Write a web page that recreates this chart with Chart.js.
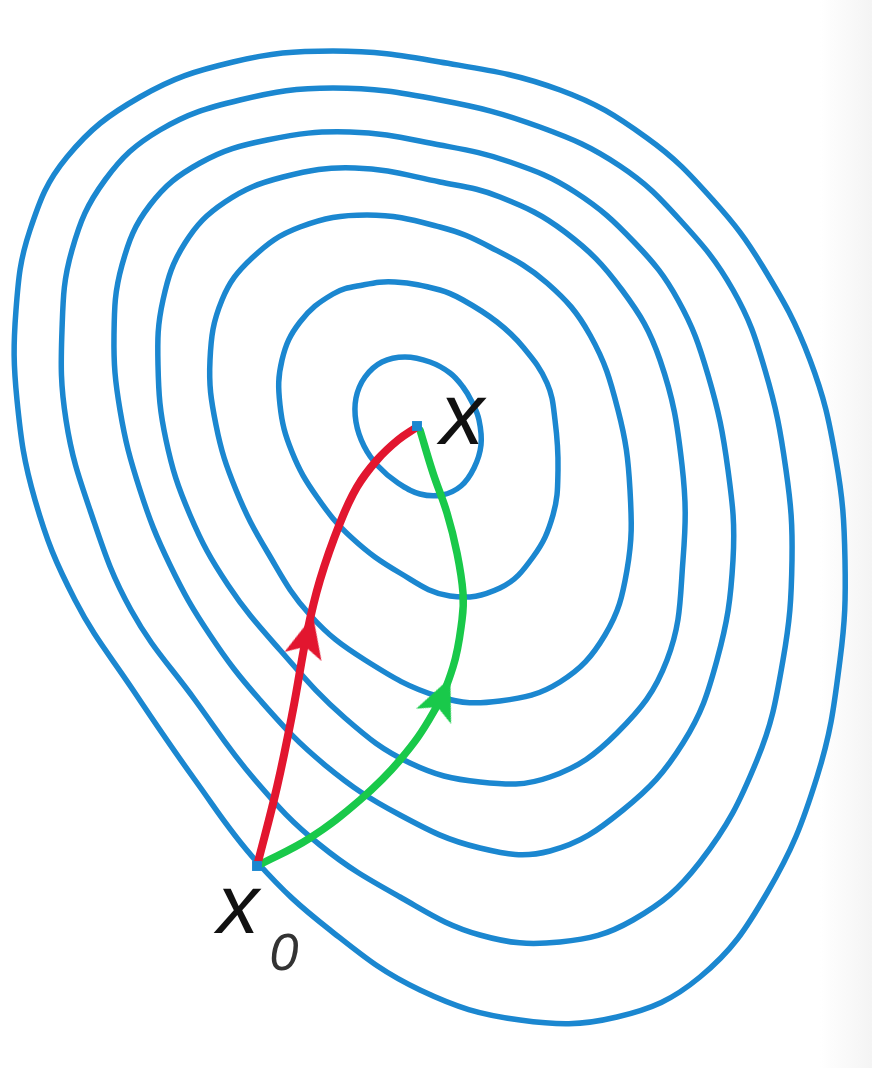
<!DOCTYPE html>
<html>
<head>
<meta charset="utf-8">
<title>Descent paths on contour lines</title>
<script src="https://cdn.jsdelivr.net/npm/chart.js@4.4.1/dist/chart.umd.min.js"></script>
<style>
  html, body { margin: 0; padding: 0; }
  body {
    width: 872px; height: 1068px; overflow: hidden;
    background: linear-gradient(to right, #fff 0, #fff 820px, #f4f4f4 872px);
  }
  canvas { display: block; }
</style>
</head>
<body>
<canvas id="plot" width="872" height="1068"></canvas>
<script>
// Contour levels, outermost first, as [x, y] in picture units (y grows downward)
const level7 = [[440,62],[333,51],[233,62],[140,97],[67,157],[30,230],[16,310],[17,400],[35,500],[75,600],[133,690],[195,780],[257,862],[330,930],[420,990],[520,1020],[617,1017],[700,977],[767,893],[817,777],[840,660],[845,560],[836,460],[810,360],[763,267],[713,200],[647,138],[560,90]];
const level6 = [[440,100],[333,88],[240,100],[160,130],[105,180],[72,250],[62,330],[66,420],[90,510],[131,610],[195,700],[255,780],[320,845],[400,897],[480,935],[560,942],[633,920],[700,862],[757,760],[783,660],[792,560],[786,470],[765,370],[733,290],[680,220],[620,166],[540,127]];
const level5 = [[440,145],[350,132],[267,140],[200,163],[150,205],[122,265],[114,335],[120,410],[140,490],[170,565],[210,635],[260,700],[325,765],[400,815],[480,848],[550,851],[623,810],[683,743],[717,660],[733,560],[728,470],[708,375],[678,300],[635,243],[575,192],[510,162]];
const level4 = [[440,182],[355,168],[283,177],[225,202],[185,243],[163,300],[158,365],[166,440],[190,515],[228,585],[280,650],[345,718],[410,763],[480,782],[550,777],[617,733],[667,660],[683,560],[682,465],[660,360],[622,290],[565,232],[500,197]];
const level3 = [[440,227],[367,215],[300,227],[252,258],[222,300],[210,360],[216,425],[236,490],[268,553],[310,615],[365,660],[440,697],[500,701],[560,682],[605,635],[627,570],[630,490],[618,410],[590,335],[547,283],[490,247]];
const level2 = [[440,290],[395,282],[363,285],[333,294],[300,322],[282,360],[280,405],[292,452],[317,497],[352,538],[400,573],[450,596],[500,588],[533,557],[553,515],[558,470],[555,420],[547,383],[523,347],[497,322],[463,300]];
const level1 = [[405,357],[382,362],[365,377],[356,398],[356,422],[364,446],[378,466],[398,483],[420,494],[442,495],[461,486],[474,468],[481,445],[479,420],[472,402],[463,387],[450,373],[430,362]];
const contourLevels = [level7, level6, level5, level4, level3, level2, level1];

// The two paths from x0 to the minimum x
const redPath = [[257,866],[277,787],[293,710],[307,633],[320,580],[340,523],[357,487],[377,460],[398,440],[417,427]];
const greenPath = [[257,866],[310,838],[360,800],[400,760],[433,713],[453,667],[462,620],[463,593],[457,553],[447,513],[433,473],[420,430]];

const startPoint = [257, 866];
const minimumPoint = [417, 426];

// Where the arrowheads sit on each path
const redArrowAt = [308, 636];
const greenArrowAt = [442, 697];

const BLUE = '#1b87d0';
const RED = '#e2162f';
const GREEN = '#19c94a';

const textLabels = [
  { text: 'x', at: [462, 444], font: 'italic 88px "Liberation Sans", Arial, sans-serif', color: '#111' },
  { text: 'x', at: [238, 933], font: 'italic 84px "Liberation Sans", Arial, sans-serif', color: '#111' },
  { text: '0', at: [284, 970], font: 'italic 52px "Liberation Sans", Arial, sans-serif', color: '#333' },
];

const toXY = (pts) => pts.map(([x, y]) => ({ x, y }));

// Closed spline: pad with the neighbours on both ends so every visible
// segment gets proper tangents, then hide the two padding segments.
const closedLevel = (pts, i) => {
  const n = pts.length;
  return {
    label: 'level ' + (7 - i),
    data: toXY([pts[n - 1], ...pts, pts[0], pts[1]]),
    showLine: true,
    borderColor: BLUE,
    borderWidth: 5.5,
    tension: 0.4,
    pointRadius: 0,
    fill: false,
    order: 3,
    clip: false,
    segment: {
      borderColor: (ctx) => (ctx.p0DataIndex === 0 || ctx.p0DataIndex === n + 1) ? 'rgba(0,0,0,0)' : undefined,
    },
  };
};

// Direction of the path segment nearest to a point, in degrees clockwise from "up"
const heading = (path, [ax, ay]) => {
  let best = 0, bestD = Infinity;
  for (let i = 0; i < path.length - 1; i++) {
    const mx = (path[i][0] + path[i + 1][0]) / 2;
    const my = (path[i][1] + path[i + 1][1]) / 2;
    const d = (mx - ax) ** 2 + (my - ay) ** 2;
    if (d < bestD) { bestD = d; best = i; }
  }
  const [x1, y1] = path[best], [x2, y2] = path[best + 1];
  return Math.atan2(x2 - x1, y1 - y2) * 180 / Math.PI;
};

// Barbed arrowhead sprite, tip pointing up
const arrowHead = (color) => {
  const c = document.createElement('canvas');
  c.width = 48; c.height = 48;
  const g = c.getContext('2d');
  g.fillStyle = color;
  g.beginPath();
  g.moveTo(24, 3);
  g.lineTo(43, 45);
  g.lineTo(24, 35);
  g.lineTo(5, 45);
  g.closePath();
  g.fill();
  return c;
};

const labelPlugin = {
  id: 'pointLabels',
  afterDatasetsDraw(chart) {
    const { ctx, scales: { x, y } } = chart;
    ctx.save();
    ctx.textAlign = 'center';
    ctx.textBaseline = 'alphabetic';
    for (const l of textLabels) {
      ctx.font = l.font;
      ctx.fillStyle = l.color;
      ctx.fillText(l.text, x.getPixelForValue(l.at[0]), y.getPixelForValue(l.at[1]));
    }
    ctx.restore();
  },
};

const pathSet = (label, pts, color, width) => ({
  label,
  data: toXY(pts),
  showLine: true,
  borderColor: color,
  borderWidth: width,
  borderCapStyle: 'round',
  tension: 0.4,
  pointRadius: 0,
  fill: false,
  order: 2,
});

const arrowSet = (label, at, path, color) => ({
  label,
  data: toXY([at]),
  showLine: false,
  pointStyle: arrowHead(color),
  pointRotation: heading(path, at),
  pointRadius: 20,
  order: 1,
});

new Chart(document.getElementById('plot'), {
  type: 'scatter',
  data: {
    datasets: [
      {
        label: 'points',
        data: toXY([minimumPoint, startPoint]),
        pointStyle: 'rect',
        pointRadius: 7,
        pointBackgroundColor: BLUE,
        pointBorderWidth: 0,
        order: 0,
      },
      arrowSet('red arrow', redArrowAt, redPath, RED),
      arrowSet('green arrow', greenArrowAt, greenPath, GREEN),
      pathSet('red path', redPath, RED, 8),
      pathSet('green path', greenPath, GREEN, 7.5),
      ...contourLevels.map(closedLevel),
    ],
  },
  options: {
    responsive: false,
    animation: false,
    layout: { padding: 0, autoPadding: false },
    plugins: { legend: { display: false }, tooltip: { enabled: false } },
    scales: {
      x: { type: 'linear', min: 0, max: 872, display: false },
      y: { type: 'linear', min: 0, max: 1068, reverse: true, display: false },
    },
  },
  plugins: [labelPlugin],
});
</script>
</body>
</html>
